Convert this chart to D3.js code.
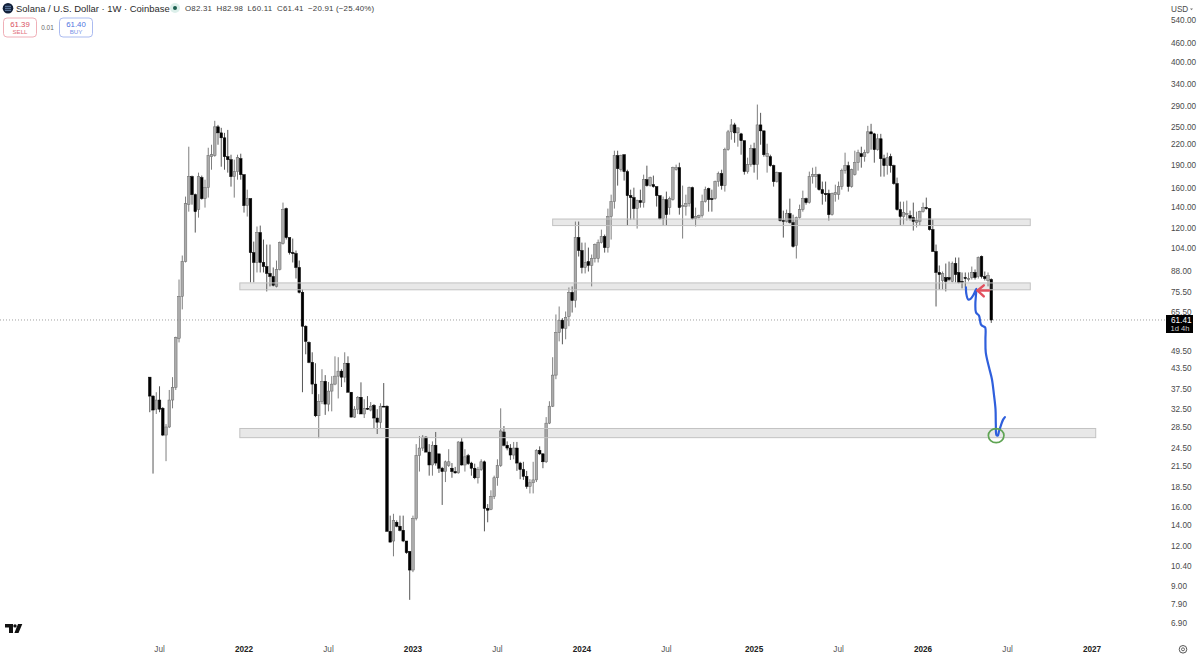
<!DOCTYPE html>
<html>
<head>
<meta charset="utf-8">
<script src="https://cdn.jsdelivr.net/npm/d3@7"></script>
<style>
html,body{margin:0;padding:0;background:#fff;overflow:hidden}
svg{display:block;font-family:"Liberation Sans",Inter,sans-serif}
</style>
</head>
<body>
<svg id="c" width="1200" height="657"></svg>
<script>
const firstWeek = "2021-06-14";
const opens = [
40.6,35.4,32.2,34.4,32.4,26.7,28.3,34.4,37.7,53.8,72.9,93.7,141.5,173.3,152.1,136.5,172.1,147.8,160,200.2,
201.7,248.5,237.9,229.5,200.2,195.9,173.3,179.7,197.3,175.8,140.5,147.8,100,93.1,115.6,93.1,90.4,86,84.1,78.3,
88.5,106.8,137.5,111.5,100,99.3,89.8,75,58.7,52.2,45.2,38.6,30.7,34.1,39.4,33.4,36.7,38.6,40.9,42.4,
40.6,44.9,36.4,30.4,32.2,35.1,31.1,32.4,32,33.1,30.2,29.3,32.9,32.9,13.3,12.4,14.2,13.8,13.4,12.4,
11.5,10.05,14.6,23,24.3,26.3,23.6,21.5,24.8,23.3,21,20.5,21.4,21,20.5,20.3,25.4,21.5,23,21.8,
21,19.6,20.8,22,15.7,15.6,17.1,19.6,21.4,27.3,24.8,24.3,23.1,24.3,21.8,20.8,19.8,18.4,18.9,19.3,
23.9,23.3,22,29.1,32.9,41.2,56.1,61.3,57.8,63,75,70.7,111.5,101.5,89.8,93.7,91.1,95.8,95.8,107.5,
112.3,103.7,129.8,144.6,201.7,182.2,203.1,179.7,151,148.9,137.5,145.7,143.6,169.5,162.4,163.5,161.2,151,127.9,146.7,
138.5,146.7,182.2,184.9,139.5,139.5,142.6,160,127.9,128.8,130.7,144.6,158.9,147.8,147.8,167.2,177.1,162.4,210.6,239.7,
252,237.9,236.2,224.7,179.7,189,212.1,189,252,241.4,200.2,200.2,187.6,167.2,178.4,126.1,125.2,132.6,124.3,105.2,
128.8,136.5,147.8,143.6,173.3,173.3,175.8,157.7,153.3,153.3,131.6,152.1,152.1,161.2,181,187.6,161.2,175.8,191.7,204.6,
200.2,206.1,239.7,236.2,210.6,227.9,197.3,187.6,200.2,187.6,164.8,136.5,129.8,131.6,130.7,128.8,124.3,125.2,134.5,138.5,
137.5,118.1,100.8,86.6,81.7,83.5,83.5,81.2,92.4,86.6,81.2,83.5,82.3,83.5,86.6,84.1,97.2,84.1,81.7,82.31];
const highs = [
40.6,35.6,36.4,38,32.7,28.9,37,40.6,54.4,82.3,97.9,150,215.2,174.6,153.3,178.4,174.6,169.5,213.6,218.3,
259.6,252,246.7,237.9,243,203.1,195.9,203.1,204.6,175.8,157.7,147.8,108.3,120.8,121.6,109.9,106,106,89.8,94.4,
108.3,143.6,138.5,111.5,110.7,101.5,94.4,76.6,59.1,52.6,48.6,44.9,35.9,43,41.2,39.2,40.9,47.2,46.9,43,
48.6,47.2,36.4,32.9,35.4,39.1,34.6,35.4,33.9,33.4,32.2,33.6,38.9,33.1,14.9,15.1,14.4,14.9,14.9,12.4,
11.5,14.9,25,26.5,26.7,26.5,25,25.5,27.3,23.3,21.2,22.2,24.1,21.8,21.2,25.5,26.1,24.1,23.3,22,
21.7,21.2,22.4,22.2,16.2,17.9,19.9,22.4,32.4,28.5,25.5,25,25.4,25.4,22,22,20.6,19.4,22,24.1,
24.6,23.4,30.4,34.1,46.9,63.9,67.7,62.2,65.3,77.7,78.3,125.2,125.2,107.5,107.5,103.7,98.6,106.8,109.9,118.1,
113.9,137.5,152.1,209.1,209.1,203.1,203.1,182.2,157.7,160,146.7,157.7,175.8,187.6,173.3,174.6,161.2,151,150,155.5,
150,186.2,189,191.7,162.4,152.1,161.2,161.2,138.5,131.6,152.1,161.2,160,157.7,168.4,179.7,182.2,213.6,243,263,
255.9,246.7,237.9,224.7,198.8,218.3,221.5,292,275,241.4,219.9,203.1,189,179.7,178.4,135.5,136.5,147.8,131.6,129.8,
141.5,156.6,148.9,179.7,184.9,186.2,177.1,167.2,167.2,157.7,154.4,163.5,167.2,183.6,206.1,193.1,183.6,209.1,210.6,215.2,
210.6,250.3,254,237.9,236.2,236.2,203.1,206.1,204.6,189,172.1,144.6,144.6,145.7,135.5,143.6,134.5,135.5,143.6,148.9,
137.5,127,106,91.1,87.2,92.4,93.7,93.7,96.5,96.5,86.6,86.6,86.6,90.4,88.5,97.2,97.9,87.2,86.6,82.98];
const lows = [
31.5,20.2,31.1,31.5,26.5,22.1,28.1,32.4,37,52.2,66.3,93.1,134.5,141.5,115.6,128.8,146.7,138.5,148.9,182.2,
200.2,218.3,186.2,182.2,178.4,161.2,148.9,169.5,169.5,133.6,129.8,80.6,80.6,86.6,86.6,86.6,75.5,78.3,78.3,77.7,
87.9,106,109.9,98.6,93.1,82.9,74.4,36.4,47.9,44.9,35.9,30.4,26.1,33.4,30.9,31.7,31.7,38.3,34.8,37.8,
39.1,36.4,30.4,30.2,31.1,31.1,30.2,32,31.7,27.9,26.9,27.9,32.7,13.3,12.3,11.1,13.7,13.3,12.3,11.3,
8.1,9.9,14.4,20.5,23.8,23.6,19.9,19.9,21.4,20.3,16.1,19,21.2,19.6,20.2,20.2,21.4,20.5,21.5,19.9,
19.4,18.8,20.6,13.3,14.2,15.5,16.8,18.5,21.2,24.6,23.9,22.3,22.4,20.6,19.4,19.3,18.1,17.5,17.5,19,
23.1,21,21.8,28.9,32.7,40,52.6,51.5,53.4,58.7,64.8,67.2,97.2,86,86,87.2,78.3,93.1,93.1,106.8,
100,100,109.9,137.5,162.4,179.7,168.4,121.6,127,127,119,138.5,138.5,161.2,161.2,160,139.5,127,121.6,121.6,
131.6,145.7,181,131.6,110.7,130.7,139.5,127,120.8,127.9,128.8,143.6,134.5,134.5,146.7,161.2,157.7,155.5,209.1,226.4,
221.5,215.2,203.1,175.8,177.1,186.2,178.4,169.5,218.3,200.2,178.4,186.2,161.2,166,125.2,111.5,124.3,123.4,103.7,95.8,
127.9,134.5,141.5,142.6,164.8,160,156.6,141.5,144.6,126.1,130.7,144.6,146.7,157.7,177.1,155.5,160,174.6,181,184.9,
193.1,204.6,210.6,191.7,209.1,173.3,173.3,175.8,178.4,163.5,135.5,121.6,122.5,126.1,126.1,117.3,119.9,121.6,133.6,136.5,
117.3,100.8,67.7,76.6,76.6,75.5,81.2,80.6,80.6,80,77.2,77.7,81.2,82.3,82.3,82.9,82.9,81.7,78.3,60.11];
const closes = [
35.4,32,34.4,32.2,26.7,28.3,34.4,37.7,54.1,72.9,93.7,142.6,173.3,152.1,134.5,173.3,147.8,160,201.7,203.1,
248.5,237.9,229.5,200.2,195.9,173.3,179.7,198.8,175.8,140.5,147.8,100,93.1,115.6,93.1,90.4,86,84.1,78.9,88.5,
107.5,136.5,111.5,100,99.3,89.8,75,58.7,52.6,45.2,38.6,30.7,34.1,39.4,33.4,36.7,38.6,40.9,42.4,40.6,
44.9,36.4,30.4,32.2,35.1,31.1,32.4,32.2,32.9,30.2,29.3,32.9,32.7,13.3,12.3,14.4,13.8,13.4,12.4,11.4,
10.05,14.6,23,24.3,26.3,23.6,21.5,24.8,21.8,21,20.5,22,22,20.5,20.3,25.4,21.5,22.8,21.7,21,
19.6,20.8,22,15.7,15.5,17.1,19.6,21.4,27.5,24.8,24.3,23.1,24.3,21.8,20.8,19.8,18.4,18.9,19.3,23.9,
23.3,22,29.1,32.9,41.2,56.1,61.3,57.8,62.6,75,70.7,111.5,101.5,89.8,93.1,91.1,95.8,106,107.5,112.3,
103.7,129.8,144.6,201.7,183.6,201.7,179.7,151,148.9,137.5,145.7,143.6,169.5,162.4,172.1,161.2,151,127.9,146.7,131.6,
147.8,184.9,184.9,138.5,140.5,142.6,160,127.9,129.8,130.7,144.6,157.7,146.7,146.7,167.2,177.1,162.4,210.6,239.7,252,
237.9,246.7,224.7,179.7,189,212.1,189,252,241.4,203.1,204.6,187.6,167.2,178.4,126.1,125.2,132.6,124.3,104.5,128.8,
136.5,147.8,143.6,173.3,175.8,175.8,157.7,153.3,152.1,131.6,153.3,154.4,161.2,181,187.6,161.2,182.2,191.7,206.1,200.2,
206.1,239.7,236.2,210.6,227.9,197.3,187.6,198.8,187.6,164.8,136.5,129.8,133.6,132.6,127.9,125.2,126.1,134.5,138.5,137.5,
118.1,100.8,86.6,85.3,86,81.2,82.3,92.4,85.3,80.6,80.6,82.9,82.9,86.6,83.5,96.5,84.1,82.9,84.7,61.41];

const priceTicks = [540,460,400,340,290,250,220,190,160,140,120,104,88,75.5,65.5,49.5,43.5,37.5,32.5,28.5,24.5,21.5,18.5,16,14,12,10.4,9,7.9,6.9];
const timeTickDates = ["2021-07-05","2022-01-03","2022-07-04","2023-01-02","2023-07-03","2024-01-01","2024-07-01","2025-01-06","2025-07-07","2026-01-05","2026-07-06","2027-01-04"];
const timeTickLabels = ["Jul","2022","Jul","2023","Jul","2024","Jul","2025","Jul","2026","Jul","2027"];

const zoneStarts = ["2023-10-30","2021-12-25","2021-12-25"];
const zoneEnds = ["2026-08-24","2026-08-24","2027-01-12"];
const zoneTops = [127.5,80.3,28];
const zoneBottoms = [121.6,76.4,26.2];

const inkWeeks = [251.2,251.3,251.9,252.7,253.6,254.4,254.3,254.1,254.3,255.2,255.8,256.4,257.1,257.2,257.3,258.3,259.2,259.8,260.3,260.4,260.6,261,261.4,262,262.6,263.2];
const inkPrices = [77.7,74.4,71.2,71.7,73.9,76.9,73.9,68.7,64.8,63.4,59.5,58.7,58.2,53.4,48.6,43.6,40,35.9,32.2,28.9,26.7,26.6,27.5,28.7,29.8,30.4];
const arrowShaftWeeks = [258.3,254.8];
const arrowShaftPrices = [76,76];
const arrowHeadWeeks = [256.7,254.8,256.7];
const arrowHeadPrices = [78.9,76,72.8];
const circleWeek = 260.5, circlePrice = 26.6;
const lastPrice = 61.41;

const parse = d3.utcParse("%Y-%m-%d");
const WEEK = 7*864e5;
const weekDate = w => new Date(+parse(firstWeek) + w*WEEK);

const x = d3.scaleUtc().domain([parse("2022-01-03"),parse("2027-01-04")]).range([244,1092]);
const y = d3.scaleLog().domain([290,6.9]).range([105.5,622]);

const svg = d3.select("#c");
const bars = opens.map((o,i)=>({i,o,h:highs[i],l:lows[i],c:closes[i],t:weekDate(i)}));

// last-price line
svg.append("line").attr("x1",0).attr("x2",1165).attr("y1",y(lastPrice)).attr("y2",y(lastPrice))
  .attr("stroke","#777").attr("stroke-width",0.7).attr("stroke-dasharray","1 2");

// candles
const cg = svg.append("g");
cg.selectAll("line").data(bars).join("line")
  .attr("x1",d=>x(d.t)).attr("x2",d=>x(d.t))
  .attr("y1",d=>y(d.h)).attr("y2",d=>y(d.l))
  .attr("stroke",d=>d.c>=d.o?"#6f6f6f":"#444").attr("stroke-width",0.9);
cg.selectAll("rect").data(bars).join("rect")
  .attr("x",d=>x(d.t)-1.3).attr("width",2.6)
  .attr("y",d=>y(Math.max(d.o,d.c)))
  .attr("height",d=>Math.max(0.9,Math.abs(y(d.o)-y(d.c))))
  .attr("fill",d=>d.c>=d.o?"#ababab":"#000")
  .attr("stroke",d=>d.c>=d.o?"#666":"#000").attr("stroke-width",0.5);

// zones
svg.append("g").selectAll("rect").data(zoneStarts.map((s,i)=>i)).join("rect")
  .attr("x",i=>x(parse(zoneStarts[i])))
  .attr("width",i=>x(parse(zoneEnds[i]))-x(parse(zoneStarts[i])))
  .attr("y",i=>y(zoneTops[i]))
  .attr("height",i=>y(zoneBottoms[i])-y(zoneTops[i]))
  .attr("fill","#787878").attr("fill-opacity",0.17)
  .attr("stroke","#c2c2c2").attr("stroke-width",1);

// hand drawing
const ink = d3.line().x(d=>x(weekDate(d[0]))).y(d=>y(d[1]));
svg.append("path").datum(d3.zip(inkWeeks,inkPrices))
  .attr("d",ink.curve(d3.curveCatmullRom)).attr("fill","none")
  .attr("stroke","#2f5fdc").attr("stroke-width",2.2).attr("stroke-linecap","round").attr("stroke-linejoin","round");
const straight = d3.line().x(d=>x(weekDate(d[0]))).y(d=>y(d[1]));
[[arrowShaftWeeks,arrowShaftPrices],[arrowHeadWeeks,arrowHeadPrices]].forEach(p=>{
  svg.append("path").datum(d3.zip(p[0],p[1])).attr("d",straight).attr("fill","none")
    .attr("stroke","#e2505f").attr("stroke-width",2.4).attr("stroke-linecap","round").attr("stroke-linejoin","round");
});
svg.append("ellipse").attr("cx",x(weekDate(circleWeek))).attr("cy",y(circlePrice))
  .attr("rx",7.8).attr("ry",7).attr("fill","none").attr("stroke","#5fa453").attr("stroke-width",1.7);

// price axis
const yAxis = d3.axisRight(y).tickValues(priceTicks).tickSize(0).tickPadding(0).tickFormat(d3.format(".2f"));
const gy = svg.append("g").attr("transform","translate(1171,0.7)").call(yAxis);
gy.select(".domain").remove();
gy.selectAll("text").attr("fill","#4a4a4a").attr("font-size",8.2).attr("font-family","'Liberation Sans',sans-serif");

// USD box
svg.append("rect").attr("x",1166).attr("y",0).attr("width",34).attr("height",15.5).attr("fill","#fff");
svg.append("text").attr("x",1171).attr("y",12.2).attr("font-size",8.2).attr("fill","#4a4a4a").text("USD");
svg.append("path").attr("d",d3.line()([[1190,8.5],[1193,8.5],[1191.5,10.2]])).attr("fill","#777");

// time axis
const tickDates = timeTickDates.map(parse);
const xAxis = d3.axisBottom(x).tickValues(tickDates).tickSize(0).tickPadding(0)
  .tickFormat((d,i)=>timeTickLabels[i]);
const gx = svg.append("g").attr("transform","translate(-0.5,646.5)").call(xAxis);
gx.select(".domain").remove();
gx.selectAll("text").attr("font-size",8.2).attr("font-family","'Liberation Sans',sans-serif")
  .attr("fill",(d,i)=>timeTickLabels[i]==="Jul"?"#555":"#222")
  .attr("font-weight",(d,i)=>timeTickLabels[i]==="Jul"?400:700);

// last-price tag
svg.append("rect").attr("x",1166).attr("y",315).attr("width",27).attr("height",18).attr("fill","#000");
svg.append("text").attr("x",1171).attr("y",323.2).attr("font-size",8.2).attr("fill","#fff").text(d3.format(".2f")(lastPrice));
svg.append("text").attr("x",1170.5).attr("y",331.4).attr("font-size",7.6).attr("fill","#cfcfcf").text("1d 4h");

// header
svg.append("circle").attr("cx",8).attr("cy",8.3).attr("r",5.3).attr("fill","#12203a");
svg.append("path").attr("d","M5 6.3H11M5 8.3H11M5 10.3H11").attr("stroke","#7fa0c8").attr("stroke-width",0.8);
svg.append("text").attr("x",16).attr("y",12).attr("font-size",9.45).attr("fill","#2a2a2a")
  .text("Solana / U.S. Dollar · 1W · Coinbase");
svg.append("circle").attr("cx",175).attr("cy",8).attr("r",5).attr("fill","#dcefea");
svg.append("circle").attr("cx",175).attr("cy",8).attr("r",2).attr("fill","#1c5f50");
const ohlc = ["O82.31","H82.98","L60.11","C61.41","−20.91 (−25.40%)"];
const ohlcX = [185,216.5,247.5,277,308];
svg.append("g").selectAll("text").data(ohlc).join("text")
  .attr("x",(d,i)=>ohlcX[i]).attr("y",11).attr("font-size",7.9).attr("letter-spacing",0.2)
  .attr("fill","#3c3c3c").text(d=>d);

svg.append("rect").attr("x",3.5).attr("y",18).attr("width",33).attr("height",19).attr("rx",3.5)
  .attr("fill","#fff").attr("stroke","#eb9aa4").attr("stroke-width",0.8);
svg.append("text").attr("x",20).attr("y",26.7).attr("text-anchor","middle").attr("font-size",7.8).attr("fill","#d9505f").text("61.39");
svg.append("text").attr("x",20).attr("y",34.4).attr("text-anchor","middle").attr("font-size",6.2).attr("fill","#e2707c").text("SELL");
svg.append("text").attr("x",47.5).attr("y",30).attr("text-anchor","middle").attr("font-size",6.4).attr("fill","#666").text("0.01");
svg.append("rect").attr("x",59.5).attr("y",18).attr("width",33).attr("height",19).attr("rx",3.5)
  .attr("fill","#fff").attr("stroke","#96aaec").attr("stroke-width",0.8);
svg.append("text").attr("x",76).attr("y",26.7).attr("text-anchor","middle").attr("font-size",7.8).attr("fill","#4f74e0").text("61.40");
svg.append("text").attr("x",76).attr("y",34.4).attr("text-anchor","middle").attr("font-size",6.2).attr("fill","#7592e6").text("BUY");

// TradingView mark
svg.append("path").attr("d","M5 624H13V633H9V627.5H5Z M15 624.2A1.7 1.7 0 1 1 15 627.6A1.7 1.7 0 1 1 15 624.2Z M18 624H22.3L18.5 633H14.4Z").attr("fill","#111");

// settings gear
svg.append("circle").attr("cx",1183).attr("cy",649.3).attr("r",3.8).attr("fill","none").attr("stroke","#444").attr("stroke-width",0.9);
svg.append("circle").attr("cx",1183).attr("cy",649.3).attr("r",1.5).attr("fill","none").attr("stroke","#444").attr("stroke-width",0.8);
</script>
</body>
</html>
